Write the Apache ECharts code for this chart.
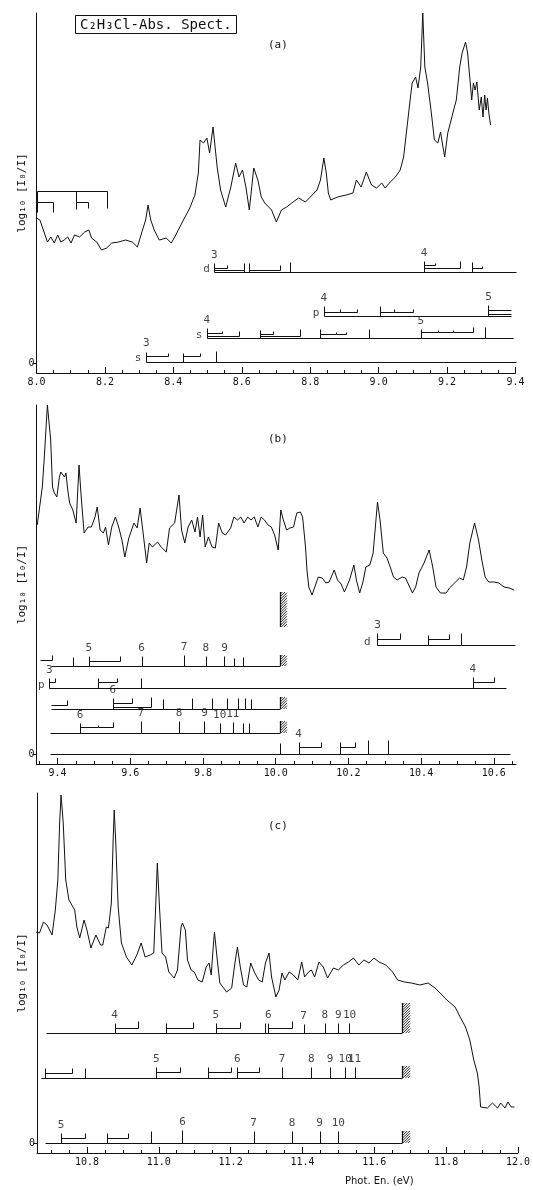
<!DOCTYPE html>
<html><head><meta charset="utf-8">
<script src="https://cdn.jsdelivr.net/npm/echarts@6/dist/echarts.min.js"></script>
<style>html,body{margin:0;padding:0;background:#fff}#c{width:533px;height:1190px}</style>
</head><body><div id="c"></div>
<script>
// ---------------- spectra (photon energy eV, log10(I0/I) arbitrary units) ----------------
const specA = [[8.000,145],[8.010,143],[8.020,133],[8.032,121],[8.042,126],[8.052,120],[8.062,128],[8.071,121],[8.081,123],[8.091,126],[8.101,120],[8.111,128],[8.126,126],[8.141,131],[8.153,133],[8.161,125],[8.176,121],[8.190,113],[8.205,115],[8.220,120],[8.240,121],[8.260,123],[8.280,121],[8.295,116],[8.308,131],[8.319,143],[8.326,158],[8.334,143],[8.344,133],[8.359,123],[8.379,125],[8.394,120],[8.404,126],[8.419,136],[8.434,146],[8.448,155],[8.463,168],[8.473,190],[8.478,223],[8.488,220],[8.498,225],[8.506,210],[8.516,236],[8.528,196],[8.538,173],[8.553,156],[8.568,176],[8.582,200],[8.592,186],[8.602,193],[8.612,176],[8.622,153],[8.635,195],[8.647,183],[8.657,166],[8.667,160],[8.687,153],[8.701,141],[8.716,153],[8.731,156],[8.746,160],[8.766,165],[8.786,161],[8.806,168],[8.820,173],[8.830,183],[8.840,205],[8.847,190],[8.853,170],[8.860,163],[8.880,166],[8.905,168],[8.925,170],[8.935,183],[8.949,176],[8.964,191],[8.979,178],[8.994,175],[9.009,180],[9.019,175],[9.034,181],[9.049,186],[9.063,193],[9.073,206],[9.083,236],[9.093,266],[9.098,280],[9.108,286],[9.115,275],[9.123,296],[9.129,350],[9.135,296],[9.143,280],[9.153,253],[9.163,223],[9.173,220],[9.181,231],[9.188,216],[9.193,206],[9.202,230],[9.217,250],[9.227,263],[9.237,296],[9.244,310],[9.254,321],[9.260,310],[9.267,283],[9.272,263],[9.277,280],[9.282,273],[9.287,281],[9.294,253],[9.300,266],[9.305,246],[9.310,268],[9.314,253],[9.318,265],[9.322,250],[9.327,238]];

const specB = [[9.344,229],[9.358,267],[9.363,294],[9.372,349],[9.381,314],[9.386,267],[9.391,261],[9.398,257],[9.405,277],[9.409,282],[9.419,277],[9.423,281],[9.428,264],[9.433,251],[9.442,244],[9.451,231],[9.459,289],[9.465,257],[9.473,221],[9.484,227],[9.493,227],[9.503,237],[9.509,247],[9.517,224],[9.526,221],[9.532,227],[9.540,209],[9.549,227],[9.559,237],[9.568,227],[9.577,214],[9.585,197],[9.596,216],[9.610,231],[9.619,226],[9.627,246],[9.635,222],[9.645,191],[9.652,211],[9.661,207],[9.675,212],[9.685,207],[9.699,202],[9.708,226],[9.722,231],[9.734,259],[9.741,224],[9.750,211],[9.759,227],[9.769,234],[9.778,222],[9.785,237],[9.792,217],[9.799,239],[9.806,207],[9.815,217],[9.825,207],[9.834,206],[9.843,231],[9.853,221],[9.862,219],[9.876,226],[9.885,237],[9.895,234],[9.904,237],[9.913,231],[9.923,237],[9.932,234],[9.941,237],[9.951,227],[9.960,237],[9.969,234],[9.979,229],[9.988,227],[9.997,219],[10.007,204],[10.014,244],[10.021,234],[10.030,224],[10.039,226],[10.049,227],[10.058,241],[10.068,242],[10.074,237],[10.082,207],[10.086,184],[10.091,167],[10.100,159],[10.117,177],[10.128,176],[10.138,171],[10.147,172],[10.161,184],[10.170,174],[10.180,170],[10.189,162],[10.203,174],[10.215,189],[10.222,174],[10.231,161],[10.240,172],[10.248,187],[10.259,189],[10.268,201],[10.280,252],[10.287,234],[10.296,201],[10.306,196],[10.315,187],[10.324,177],[10.334,174],[10.348,177],[10.357,176],[10.366,169],[10.376,161],[10.385,167],[10.394,181],[10.408,191],[10.422,204],[10.432,187],[10.441,167],[10.453,161],[10.469,161],[10.478,166],[10.492,171],[10.506,176],[10.516,174],[10.525,187],[10.534,211],[10.547,231],[10.558,214],[10.567,194],[10.576,177],[10.586,172],[10.600,172],[10.614,171],[10.628,167],[10.642,166],[10.656,164]];

const specC = [[10.658,211],[10.668,210],[10.679,221],[10.689,218],[10.703,208],[10.712,233],[10.719,263],[10.724,320],[10.728,348],[10.734,320],[10.741,263],[10.750,243],[10.766,233],[10.772,216],[10.780,205],[10.792,223],[10.800,213],[10.811,195],[10.825,208],[10.838,198],[10.844,198],[10.854,216],[10.860,215],[10.868,240],[10.873,303],[10.876,333],[10.880,303],[10.887,236],[10.896,200],[10.910,186],[10.925,178],[10.939,188],[10.951,200],[10.962,186],[10.976,188],[10.986,190],[10.991,233],[10.996,280],[11.002,236],[11.009,190],[11.019,186],[11.028,171],[11.043,165],[11.052,173],[11.062,216],[11.066,220],[11.074,213],[11.080,183],[11.090,173],[11.099,171],[11.109,163],[11.121,161],[11.132,176],[11.140,180],[11.146,168],[11.151,193],[11.155,211],[11.162,186],[11.170,160],[11.189,151],[11.203,155],[11.212,180],[11.219,196],[11.227,176],[11.236,158],[11.245,156],[11.256,180],[11.266,171],[11.278,163],[11.288,161],[11.297,180],[11.307,190],[11.314,166],[11.326,146],[11.335,153],[11.343,170],[11.351,163],[11.363,171],[11.375,168],[11.387,163],[11.398,181],[11.406,166],[11.417,171],[11.425,173],[11.434,166],[11.446,181],[11.458,176],[11.470,165],[11.486,175],[11.500,173],[11.514,178],[11.528,181],[11.542,185],[11.557,178],[11.571,183],[11.585,180],[11.599,185],[11.613,181],[11.632,178],[11.651,171],[11.665,163],[11.684,161],[11.703,160],[11.727,158],[11.750,160],[11.769,155],[11.783,150],[11.802,143],[11.825,136],[11.839,126],[11.854,116],[11.866,103],[11.877,83],[11.887,70],[11.892,56],[11.896,36],[11.901,38],[11.915,35],[11.929,40],[11.943,35],[11.952,40],[11.964,35],[11.972,41],[11.981,36],[11.990,36]];

// ---------------- tick labels ----------------
const tickLabelsA = [8.0, 8.2, 8.4, 8.6, 8.8, 9.0, 9.2, 9.4];
const tickLabelsB = [9.4, 9.6, 9.8, 10.0, 10.2, 10.4, 10.6];
const tickLabelsC = [10.8, 11.0, 11.2, 11.4, 11.6, 11.8, 12.0];

// ---------------- assignment ladders ----------------
// baselines: [from eV, to eV, level, tag, tag eV]
const baseA = [[8.520,9.400,91,'d',8.497],[8.840,9.386,47,'p',8.817],[8.498,9.393,25,'s',8.475],[8.321,9.400,1.5,'s',8.297]];
// ticks: [eV, level, height, label]
const ticksA = [[8.520,91,9,'3'],[8.607,91,9],[8.622,91,9],[8.741,91,10],[9.133,91,11,'4'],[9.274,91,10],
  [8.840,47,10,'4'],[9.004,47,10],[9.321,47,11,'5'],
  [8.498,25,10,'4'],[8.654,25,8],[8.828,25,9],[8.972,25,9],[9.123,25,9,'5'],[9.310,25,11],
  [8.321,1.5,10,'3'],[8.429,1.5,9],[8.526,1.5,11]];
// brackets: [from eV, to eV, level, line height, end-tick height]
const bracketsA = [[8.520,8.556,91,4,7],[8.520,8.607,91,2,2],[8.622,8.711,91,2,7],[9.133,9.164,91,7,9],[9.133,9.239,91,4,11],[9.274,9.302,91,4,6],
  [8.840,8.888,47,4,7],[8.888,8.938,47,4,7],[9.004,9.044,47,4,7],[9.044,9.100,47,4,7],[9.321,9.386,47,6,6],[9.321,9.386,47,2,2],
  [8.498,8.541,25,5,7],[8.498,8.592,25,2,7],[8.654,8.691,25,4,7],[8.654,8.769,25,2,9],[8.828,8.875,25,4,6],[8.875,8.905,25,4,6],[9.123,9.173,25,6,8],[9.173,9.217,25,6,8],[9.217,9.277,25,6,11],
  [8.321,8.384,1.5,6,9],[8.429,8.478,1.5,6,9]];
// progression comb (top left of panel a): [eV1, y1, eV2, y2]
const combA = [[8.001,172,8.206,172],[8.001,172,8.001,151],[8.115,172,8.115,154],[8.206,172,8.206,155],[8.001,161,8.048,161],[8.048,161,8.048,151],[8.115,161,8.151,161],[8.151,161,8.151,155]];

const baseB = [[10.280,10.658,109,'d',10.252],[9.381,10.012,88],[9.377,10.634,66,'p',9.355],[9.381,10.012,45],[9.379,10.012,21],[9.379,10.644,0]];
const ticksB = [[10.280,109,12,'3'],[10.420,109,10],[10.509,109,12],
  [9.442,88,9],[9.486,88,10,'5'],[9.631,88,10,'6'],[9.748,88,11,'7'],[9.808,88,10,'8'],[9.859,88,10,'9'],[9.885,88,8],[9.909,88,9],
  [9.377,66,10,'3'],[9.510,66,10],[9.629,66,10],[10.542,66,11,'4'],
  [9.552,45,11,'6'],[9.691,45,10],[9.771,45,11],[9.825,45,11],[9.865,45,11],[9.897,45,11],[9.915,45,11],[9.932,45,10],
  [9.462,21,10,'6'],[9.629,21,12,'7'],[9.734,21,12,'8'],[9.804,21,12,'9'],[9.846,21,10,'10'],[9.882,21,11,'11'],[9.910,21,10],[9.926,21,10],
  [10.012,0,11],[10.063,0,12,'4'],[10.178,0,12],[10.254,0,14],[10.310,0,14]];
const bracketsB = [[10.280,10.343,109,6,12],[10.420,10.478,109,6,11],
  [9.351,9.386,88,6,11],[9.486,9.573,88,5,10],
  [9.377,9.392,66,6,10],[9.510,9.563,66,6,10],[10.542,10.600,66,6,11],
  [9.381,9.426,45,4,9],[9.552,9.605,45,6,11],[9.552,9.657,45,2,12],
  [9.462,9.512,21,6,8],[9.512,9.552,21,6,11],
  [10.063,10.124,0,7,12],[10.178,10.219,0,7,12]];
// hatched limits: [eV1, eV2, y1, y2]
const hatchB = [[10.012,10.028,88,99],[10.012,10.028,45,57],[10.012,10.028,21,33],[10.012,10.028,127,162]];

const baseC = [[10.687,11.677,110],[10.672,11.677,65],[10.684,11.677,0]];
const ticksC = [[10.877,110,10,'4'],[11.019,110,10],[11.159,110,10,'5'],[11.295,110,10],[11.305,110,10,'6'],[11.403,110,9,'7'],[11.462,110,10,'8'],[11.500,110,10,'9'],[11.531,110,10,'10'],
  [10.684,65,10],[10.794,65,10],[10.993,65,11,'5'],[11.137,65,11],[11.219,65,11,'6'],[11.343,65,11,'7'],[11.425,65,11,'8'],[11.477,65,11,'9'],[11.519,65,11,'10'],[11.545,65,11,'11'],
  [10.728,0,10,'5'],[10.857,0,10],[10.978,0,12],[11.066,0,13,'6'],[11.264,0,12,'7'],[11.371,0,12,'8'],[11.448,0,12,'9'],[11.500,0,12,'10']];
const bracketsC = [[10.877,10.942,110,5,12],[11.019,11.094,110,5,11],[11.159,11.225,110,5,11],[11.305,11.370,110,5,12],
  [10.684,10.758,65,5,10],[10.993,11.060,65,6,11],[11.137,11.201,65,6,11],[11.219,11.280,65,6,11],
  [10.728,10.795,0,5,10],[10.857,10.913,0,5,10]];
const hatchC = [[11.677,11.697,110,140],[11.677,11.697,65,77],[11.677,11.697,0,12]];

// ---------------- build ----------------
const FONT = "'DejaVu Sans Mono', monospace";
const INK = '#111';

function segmentsOf(base, ticks, brackets, extra) {
  const s = [];
  base.forEach(b => s.push([b[0], b[2], b[1], b[2]]));
  ticks.forEach(t => s.push([t[0], t[1], t[0], t[1] + t[2]]));
  brackets.forEach(k => {
    s.push([k[0], k[2] + k[3], k[1], k[2] + k[3]]);
    if (k[4] > k[3]) s.push([k[1], k[2] + k[3], k[1], k[2] + k[4]]);
  });
  (extra || []).forEach(e => s.push(e));
  return s;
}
function labelsOf(base, ticks) {
  const l = [];
  ticks.forEach(t => { if (t[3]) l.push({ value: [t[0], t[1] + t[2] + 8], name: t[3] }); });
  base.forEach(b => { if (b[3]) l.push({ value: [b[4], b[2] + 3], name: b[3], label: { fontSize: 11 } }); });
  return l;
}
function steps(min, max, step) {
  const out = [];
  for (let v = Math.ceil(min / step - 1e-9) * step; v <= max + 1e-9; v += step) out.push(Math.round(v * 1000) / 1000);
  return out;
}

const panels = [
  { grid: { left: 36.5, right: 17.5, top: 13, height: 360 }, x: [8.0, 9.4], y: [-10, 350], spec: specA, labels: tickLabelsA,
    seg: segmentsOf(baseA, ticksA, bracketsA, combA), lab: labelsOf(baseA, ticksA), hatch: [] },
  { grid: { left: 36.5, right: 17, top: 405, height: 359 }, x: [9.342, 10.661], y: [-10, 349], spec: specB, labels: tickLabelsB,
    seg: segmentsOf(baseB, ticksB, bracketsB), lab: labelsOf(baseB, ticksB), hatch: hatchB },
  { grid: { left: 37, right: 13.3, top: 793, height: 360 }, x: [10.661, 12.0], y: [-10, 350], spec: specC, labels: tickLabelsC,
    seg: segmentsOf(baseC, ticksC, bracketsC), lab: labelsOf(baseC, ticksC), hatch: hatchC }
];

const grid = [], xAxis = [], yAxis = [], series = [];
panels.forEach((p, i) => {
  grid.push(p.grid);
  xAxis.push({
    gridIndex: i, type: 'value', min: p.x[0], max: p.x[1], position: 'bottom',
    axisLine: { show: true, onZero: false, lineStyle: { color: INK, width: 1 } },
    axisTick: { show: true, inside: true, length: 3, customValues: steps(p.x[0], p.x[1], 0.05), lineStyle: { color: INK } },
    axisLabel: { show: true, customValues: p.labels, formatter: v => Number(v).toFixed(1), fontFamily: FONT, fontSize: 10, color: INK, margin: 4 },
    splitLine: { show: false }
  });
  xAxis.push({
    gridIndex: i, type: 'value', min: p.x[0], max: p.x[1], position: 'bottom', offset: 0,
    axisLine: { show: false, onZero: false },
    axisTick: { show: true, inside: true, length: 6, customValues: p.labels, lineStyle: { color: INK } },
    axisLabel: { show: false }, splitLine: { show: false }
  });
  yAxis.push({
    gridIndex: i, type: 'value', min: p.y[0], max: p.y[1],
    axisLine: { show: true, onZero: false, lineStyle: { color: INK, width: 1 } },
    axisTick: { show: true, length: 4, customValues: [0], lineStyle: { color: INK } },
    axisLabel: { show: true, customValues: [0], formatter: () => '0', fontFamily: FONT, fontSize: 10, color: INK, margin: 2 },
    splitLine: { show: false },
    name: 'log\u2081\u2080 [I\u2080/I]', nameLocation: 'middle', nameGap: 9, nameMoveOverlap: false,
    nameTextStyle: { fontFamily: FONT, fontSize: 11, color: INK }
  });
  const xi = i * 2;
  series.push({
    type: 'line', xAxisIndex: xi, yAxisIndex: i, data: p.spec, showSymbol: false, symbol: 'none',
    lineStyle: { color: INK, width: 1 }, animation: false, silent: true, z: 3
  });
  series.push({
    type: 'custom', xAxisIndex: xi, yAxisIndex: i, coordinateSystem: 'cartesian2d', data: p.seg, animation: false, silent: true,
    renderItem: (params, api) => {
      const a = api.coord([api.value(0), api.value(1)]);
      const b = api.coord([api.value(2), api.value(3)]);
      const r = v => Math.round(v) + 0.5;
      return { type: 'line', shape: { x1: r(a[0]), y1: r(a[1]), x2: r(b[0]), y2: r(b[1]) }, style: { stroke: INK, lineWidth: 1 } };
    }
  });
  series.push({
    type: 'custom', xAxisIndex: xi, yAxisIndex: i, coordinateSystem: 'cartesian2d', data: p.hatch, animation: false, silent: true,
    renderItem: (params, api) => {
      const a = api.coord([api.value(0), api.value(2)]);
      const b = api.coord([api.value(1), api.value(3)]);
      const xl = Math.round(a[0]) + 0.5, xr = b[0] + 1, yb = a[1], yt = b[1];
      const w = xr - xl;
      const ch = [{ type: 'line', shape: { x1: xl, y1: yb, x2: xl, y2: yt }, style: { stroke: INK, lineWidth: 1.3 } }];
      for (let y = yt + 2; y <= yb + w; y += 2.6) {
        let x1 = xl, y1 = y, x2 = xr, y2 = y - w;
        if (y1 > yb) { x1 = xl + (y1 - yb); y1 = yb; }
        if (y2 < yt) { x2 = xr - (yt - y2); y2 = yt; }
        if (x2 > x1) ch.push({ type: 'line', shape: { x1, y1, x2, y2 }, style: { stroke: INK, lineWidth: 0.9 } });
      }
      return { type: 'group', children: ch };
    }
  });
  series.push({
    type: 'scatter', xAxisIndex: xi, yAxisIndex: i, data: p.lab, symbolSize: 1, itemStyle: { color: 'rgba(0,0,0,0)' },
    animation: false, silent: true,
    label: { show: true, position: 'inside', formatter: '{b}', fontFamily: FONT, fontSize: 11, color: INK }
  });
});

const chart = echarts.init(document.getElementById('c'), null, { renderer: 'canvas' });
chart.setOption({
  backgroundColor: '#fff',
  animation: false,
  title: [
    { text: 'C\u2082H\u2083Cl-Abs. Spect.', left: 75, top: 15, padding: [2, 5, 1, 5], borderWidth: 1, borderColor: INK,
      textStyle: { fontFamily: FONT, fontSize: 14, fontWeight: 'normal', color: INK, lineHeight: 16 } },
    { text: '(a)', left: 268, top: 40, padding: 0, textStyle: { fontFamily: FONT, fontSize: 11, fontWeight: 'normal', color: INK } },
    { text: '(b)', left: 268, top: 434, padding: 0, textStyle: { fontFamily: FONT, fontSize: 11, fontWeight: 'normal', color: INK } },
    { text: '(c)', left: 268, top: 821, padding: 0, textStyle: { fontFamily: FONT, fontSize: 11, fontWeight: 'normal', color: INK } },
    { text: 'Phot. En. (eV)', left: 345, top: 1176, padding: 0, textStyle: { fontFamily: "'DejaVu Sans', sans-serif", fontSize: 10, fontWeight: 'normal', color: INK } }
  ],
  grid, xAxis, yAxis, series
});
</script></body></html>
